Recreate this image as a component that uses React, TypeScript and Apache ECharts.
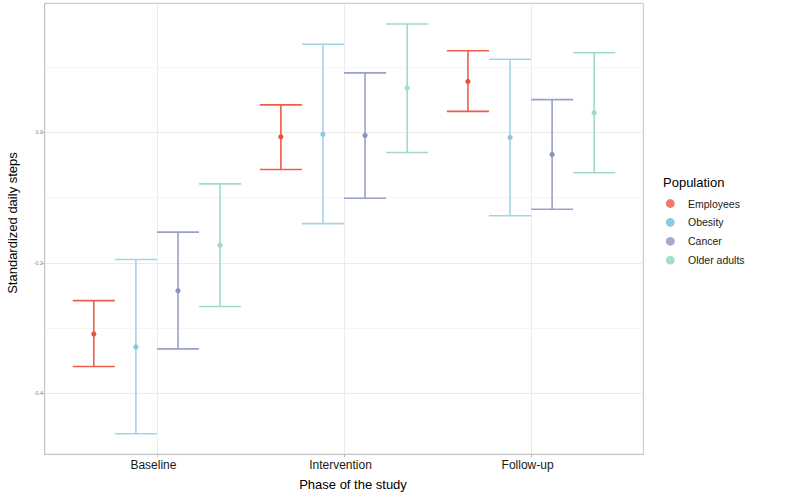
import React, { useEffect, useRef } from "react";
import * as echarts from "echarts";

const phases = ["Baseline", "Intervention", "Follow-up"];
const groups = ["Employees", "Obesity", "Cancer", "Older adults"];

const employeesMean = [-0.309, -0.007, 0.078];
const employeesLow = [-0.359, -0.057, 0.032];
const employeesHigh = [-0.258, 0.042, 0.125];

const obesityMean = [-0.329, -0.003, -0.008];
const obesityLow = [-0.462, -0.14, -0.128];
const obesityHigh = [-0.195, 0.135, 0.112];

const cancerMean = [-0.243, -0.005, -0.034];
const cancerLow = [-0.332, -0.101, -0.118];
const cancerHigh = [-0.153, 0.091, 0.05];

const olderMean = [-0.173, 0.068, 0.03];
const olderLow = [-0.267, -0.031, -0.062];
const olderHigh = [-0.079, 0.166, 0.122];

const yTicks = [-0.4, -0.2, 0.0];
const yMinorGrid = [-0.3, -0.1, 0.1];

const xTitle = "Phase of the study";
const yTitle = "Standardized daily steps";
const legendTitle = "Population";

const lineColors = ["#EE5E4A", "#A6D3E9", "#9AA1C8", "#9FDBCB"];
const pointColors = ["#E9513E", "#8CC6E1", "#8C94BE", "#9FDACA"];
const legendColors = ["#EE7A6A", "#8FC8E2", "#A3A9CF", "#A6DDCF"];

const seriesMeans = [employeesMean, obesityMean, cancerMean, olderMean];
const seriesLows = [employeesLow, obesityLow, cancerLow, olderLow];
const seriesHighs = [employeesHigh, obesityHigh, cancerHigh, olderHigh];

const FONT = "Liberation Sans, Arial, Helvetica, sans-serif";

export default function App() {
  const ref = useRef<HTMLDivElement>(null);

  useEffect(() => {
    if (!ref.current) return;
    const chart = echarts.init(ref.current, null, { renderer: "svg" });

    const dodge = 0.9;
    const n = groups.length;
    const slot = dodge / n;

    const series: any[] = groups.map((g, gi) => {
      const offset = (gi - (n - 1) / 2) * slot;
      const data = phases.map((_, pi) => [
        pi + 1,
        seriesLows[gi][pi],
        seriesMeans[gi][pi],
        seriesHighs[gi][pi],
      ]);
      const s: any = {
        type: "custom",
        name: g,
        data,
        encode: { x: 0, y: [1, 2, 3] },
        itemStyle: { color: pointColors[gi] },
        renderItem: (params: any, api: any) => {
          const x = api.value(0) + offset;
          const lo = api.coord([x, api.value(1)]);
          const mid = api.coord([x, api.value(2)]);
          const hi = api.coord([x, api.value(3)]);
          const half = api.size([slot, 0])[0] / 2;
          const ls = { stroke: lineColors[gi], lineWidth: 1.6 };
          return {
            type: "group",
            children: [
              { type: "line", shape: { x1: lo[0], y1: lo[1], x2: hi[0], y2: hi[1] }, style: ls },
              { type: "line", shape: { x1: hi[0] - half, y1: hi[1], x2: hi[0] + half, y2: hi[1] }, style: ls },
              { type: "line", shape: { x1: lo[0] - half, y1: lo[1], x2: lo[0] + half, y2: lo[1] }, style: ls },
              { type: "circle", shape: { cx: mid[0], cy: mid[1], r: 2.6 }, style: { fill: pointColors[gi] } },
            ],
          };
        },
        z: 3,
      };
      if (gi === 0) {
        s.markLine = {
          silent: true,
          symbol: ["none", "none"],
          label: { show: false },
          lineStyle: { color: "#F2F2F2", width: 0.8, type: "solid" },
          data: yMinorGrid.map((v) => ({ yAxis: v })),
          z: 0,
        };
      }
      return s;
    });

    const legendTop = 203.5;
    const legendStep = 18.9;
    const graphics: any[] = [
      {
        type: "text",
        left: 663,
        top: 176,
        style: { text: legendTitle, font: `13px ${FONT}`, fill: "#000" },
      },
      {
        type: "text",
        x: 353,
        y: 484,
        style: {
          text: xTitle,
          font: `13px ${FONT}`,
          fill: "#000",
          align: "center",
          verticalAlign: "middle",
        },
      },
      {
        type: "text",
        x: 12.8,
        y: 223,
        rotation: Math.PI / 2,
        style: {
          text: yTitle,
          font: `13px ${FONT}`,
          fill: "#000",
          align: "center",
          verticalAlign: "middle",
        },
      },
    ];
    groups.forEach((g, gi) => {
      graphics.push({
        type: "circle",
        shape: { cx: 670.3, cy: legendTop + gi * legendStep, r: 4.4 },
        style: { fill: legendColors[gi] },
      });
      graphics.push({
        type: "text",
        x: 688,
        y: legendTop + gi * legendStep,
        style: {
          text: g,
          font: `10.5px ${FONT}`,
          fill: "#1a1a1a",
          verticalAlign: "middle",
        },
      });
    });

    chart.setOption({
      animation: false,
      backgroundColor: "#ffffff",
      textStyle: { fontFamily: FONT },
      grid: {
        left: 44.7,
        right: 800 - 643.3,
        top: 3.3,
        bottom: 501 - 454.3,
        show: true,
        borderColor: "#C2C2C2",
        borderWidth: 1,
        backgroundColor: "transparent",
      },
      xAxis: {
        type: "value",
        min: 0.4,
        max: phases.length + 0.6,
        axisLine: { show: true, onZero: false, lineStyle: { color: "#C2C2C2", width: 1 } },
        axisTick: {
          show: true,
          length: 3,
          lineStyle: { color: "#B8B8B8" },
          customValues: phases.map((_, i) => i + 1),
        },
        axisLabel: {
          show: true,
          margin: 5,
          fontSize: 12,
          color: "#1a1a1a",
          fontFamily: FONT,
          padding: [0, 7, 0, 0],
          customValues: phases.map((_, i) => i + 1),
          formatter: (v: number) => phases[Math.round(v) - 1] ?? "",
        },
        splitLine: { show: true, lineStyle: { color: "#EBEBEB", width: 1 } },
      },
      yAxis: {
        type: "value",
        min: -0.4935,
        max: 0.1977,
        axisLine: { show: true, onZero: false, lineStyle: { color: "#C2C2C2", width: 1 } },
        axisTick: {
          show: true,
          length: 3,
          lineStyle: { color: "#B8B8B8" },
          customValues: yTicks,
        },
        axisLabel: {
          show: true,
          margin: 2,
          fontSize: 5,
          color: "#808080",
          fontFamily: FONT,
          customValues: yTicks,
          formatter: (v: number) => v.toFixed(1),
        },
        splitLine: { show: true, lineStyle: { color: "#EBEBEB", width: 1 } },
      },
      series,
      graphic: graphics,
    });

    return () => chart.dispose();
  }, []);

  return (
    <div
      ref={ref}
      style={{ position: "fixed", left: 0, top: 0, width: 800, height: 501 }}
    />
  );
}
